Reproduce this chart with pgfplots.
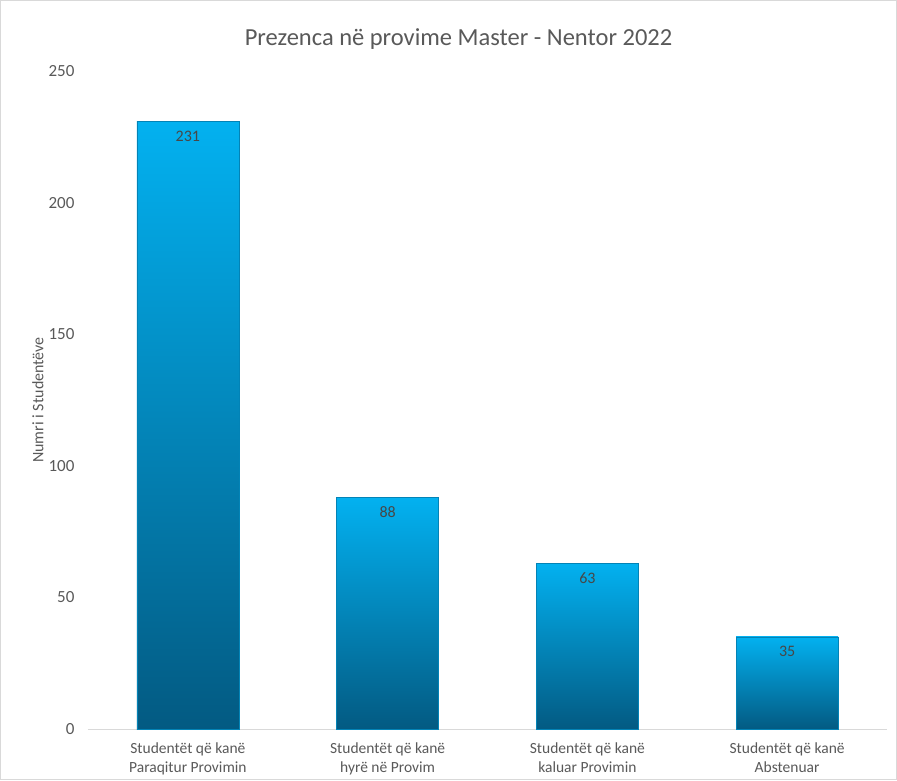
\documentclass[border=0pt]{standalone}
\usepackage{pgfplots}
\pgfplotsset{compat=1.18}
\usepackage{fontspec}
\setmainfont{Carlito}

\definecolor{txtgray}{HTML}{595959}
\definecolor{barTop}{HTML}{03B1F0}
\definecolor{barMid}{HTML}{039AD6}
\definecolor{barBot}{HTML}{035A82}
\definecolor{gridgray}{HTML}{D9D9D9}

\pgfplotsset{
  shadedbar/.style={
    draw=barMid!85!black, line width=0.6pt,
    shading=axis, top color=barTop, middle color=barMid, bottom color=barBot,
    bar shift=0pt,
  },
}

\begin{document}
\begin{tikzpicture}
\begin{axis}[
    scale only axis,
    width=799pt, height=658pt,
    xmin=-0.5, xmax=3.5,
    ymin=0, ymax=250,
    ytick={0,50,100,150,200,250},
    xtick={0,1,2,3},
    xticklabels={{Studentët që kanë\\Paraqitur Provimin},{Studentët që kanë\\hyrë në Provim},{Studentët që kanë\\kaluar Provimin},{Studentët që kanë\\Abstenuar}},
    x tick label style={align=center, font=\fontsize{15.5}{19}\selectfont, text=txtgray},
    y tick label style={font=\fontsize{17}{19}\selectfont, text=txtgray},
    /pgf/number format/assume math mode=true,
    major tick length=0pt,
    axis x line*=bottom,
    axis y line*=left,
    x axis line style={draw=gridgray, line width=1pt},
    y axis line style={draw=none},
    xticklabel shift=10pt,
    yticklabel shift=10pt,
    ylabel={Numri i Studentëve},
    ylabel style={font=\fontsize{16}{18}\selectfont, text=txtgray, at={(axis description cs:0,0.5)}, anchor=center, yshift=50pt},
    title={Prezenca në provime Master - Nentor 2022},
    title style={font=\fontsize{24.5}{27}\selectfont, text=txtgray, yshift=12pt, xshift=-29pt},
    ybar,
    bar width=102pt,
    nodes near coords,
    nodes near coords style={anchor=north, yshift=-6pt, font=\fontsize{16}{18}\selectfont, text=black!72},
    clip=false,
]
\addplot[shadedbar] coordinates {(0,231)};
\addplot[shadedbar] coordinates {(1,88)};
\addplot[shadedbar] coordinates {(2,63)};
\addplot[shadedbar] coordinates {(3,35)};
\end{axis}
\draw[gridgray, line width=1pt] (-87.5pt,-50.5pt) rectangle (808.5pt,728.5pt);
\end{tikzpicture}
\end{document}
